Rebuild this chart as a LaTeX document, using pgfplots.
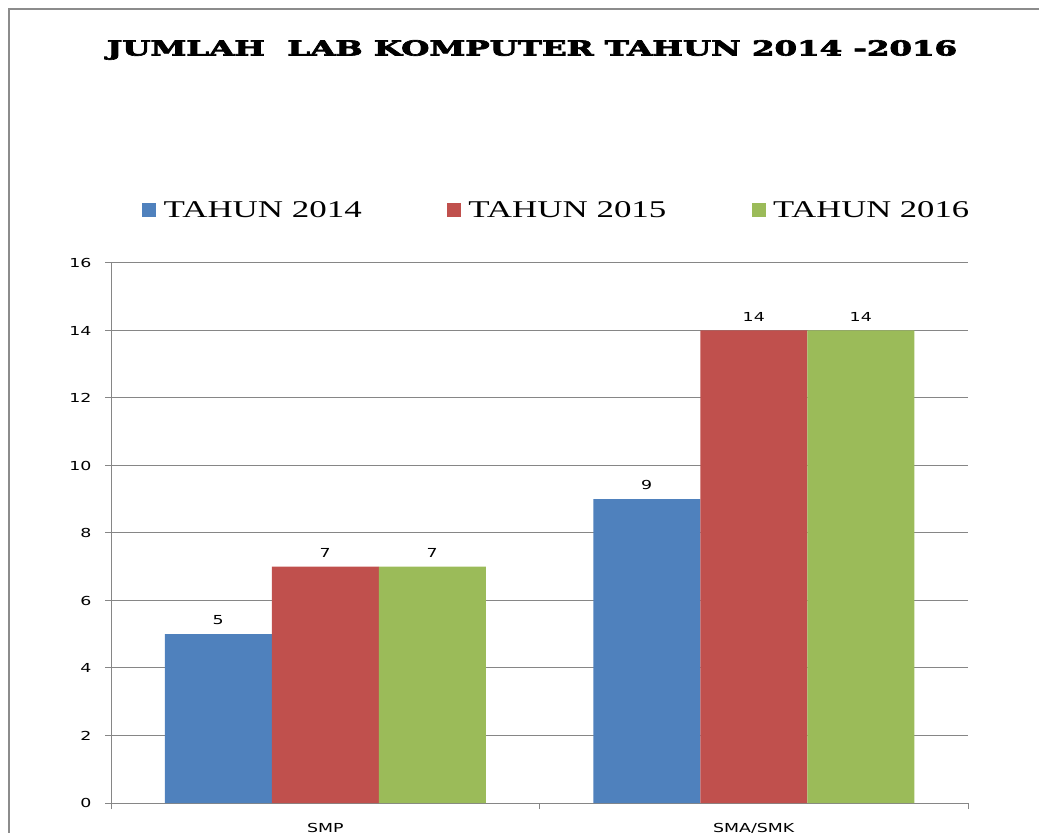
\documentclass[border=0pt]{standalone}
\usepackage{pgfplots}
\pgfplotsset{compat=1.18}
\usepackage{fontspec}
\setmainfont{Liberation Serif}
\newfontfamily\titlefont{DejaVu Serif Bold}[FakeBold=3]
\newfontfamily\tickfont{DejaVu Sans}
\definecolor{cblue}{HTML}{4F81BD}
\definecolor{cred}{HTML}{C0504D}
\definecolor{cgreen}{HTML}{9BBB59}
\definecolor{gridgray}{HTML}{868686}
\definecolor{framegray}{HTML}{8C8C8C}
\newcommand{\tk}[1]{\scalebox{1.4}[1]{#1}}
\begin{document}
\begin{tikzpicture}[x=0.75pt,y=0.75pt]
\useasboundingbox (0,0) rectangle (1039,832);
\clip (0,0) rectangle (1039,832);
\draw[framegray, line width=0.9pt] (9,-50) -- (9,823) -- (1200,823);
\node at (532,782) {\resizebox{637.5pt}{11.5pt}{\titlefont JUMLAH\ \ LAB KOMPUTER TAHUN 2014 -2016}};
\begin{axis}[
  at={(83.25pt,21.75pt)}, anchor=south west,
  scale only axis, width=642.75pt, height=405pt,
  ybar=0pt, bar width=80.25pt,
  xmin=0, xmax=2, ymin=0, ymax=16,
  ytick={0,2,...,16},
  xtick={0,1,2}, xticklabels={},
  extra x ticks={0.5,1.5},
  extra x tick labels={\tk{SMP},\tk{SMA/SMK}},
  extra x tick style={major tick length=0pt},
  axis x line*=bottom, axis y line*=left,
  axis line style={draw=gridgray, line width=0.75pt, -},
  x axis line style={-}, y axis line style={-},
  tick style={draw=gridgray, line width=0.75pt},
  tick align=outside, major tick length=4.5pt,
  ymajorgrids, grid style={draw=gridgray, line width=0.75pt},
  /pgf/number format/assume math mode=true,
  yticklabel={\tk{\pgfmathprintnumber{\tick}}},
  ticklabel style={font=\tickfont\fontsize{9.3}{11}\selectfont, inner sep=0pt},
  yticklabel style={anchor=east, xshift=-10pt},
  xticklabel style={anchor=north, yshift=-15pt},
  nodes near coords={\tk{\pgfmathprintnumber{\pgfplotspointmeta}}},
  every node near coord/.append style={font=\tickfont\fontsize{9.3}{11}\selectfont, inner sep=0pt, anchor=south, yshift=6.75pt, text=black},
  legend columns=3,
  legend style={draw=none, fill=none, at={(axis description cs:0.519,1.098)}, anchor=center,
    /tikz/every even column/.append style={column sep=64pt},
    nodes={inner sep=0pt}},
  legend cell align=left,
  legend image code/.code={\fill[#1] (0pt,-5.25pt) rectangle (10.5pt,5.25pt);},
]
\addplot[fill=cblue, draw=none] coordinates {(0.5,5) (1.5,9)};
\addplot[fill=cred, draw=none] coordinates {(0.5,7) (1.5,14)};
\addplot[fill=cgreen, draw=none] coordinates {(0.5,7) (1.5,14)};
\legend{{\hspace{5.5pt}\resizebox{148.5pt}{12pt}{TAHUN 2014}},{\hspace{5.5pt}\resizebox{148.5pt}{12pt}{TAHUN 2015}},{\hspace{5.5pt}\resizebox{147pt}{12pt}{TAHUN 2016}}}
\end{axis}
\end{tikzpicture}
\end{document}
